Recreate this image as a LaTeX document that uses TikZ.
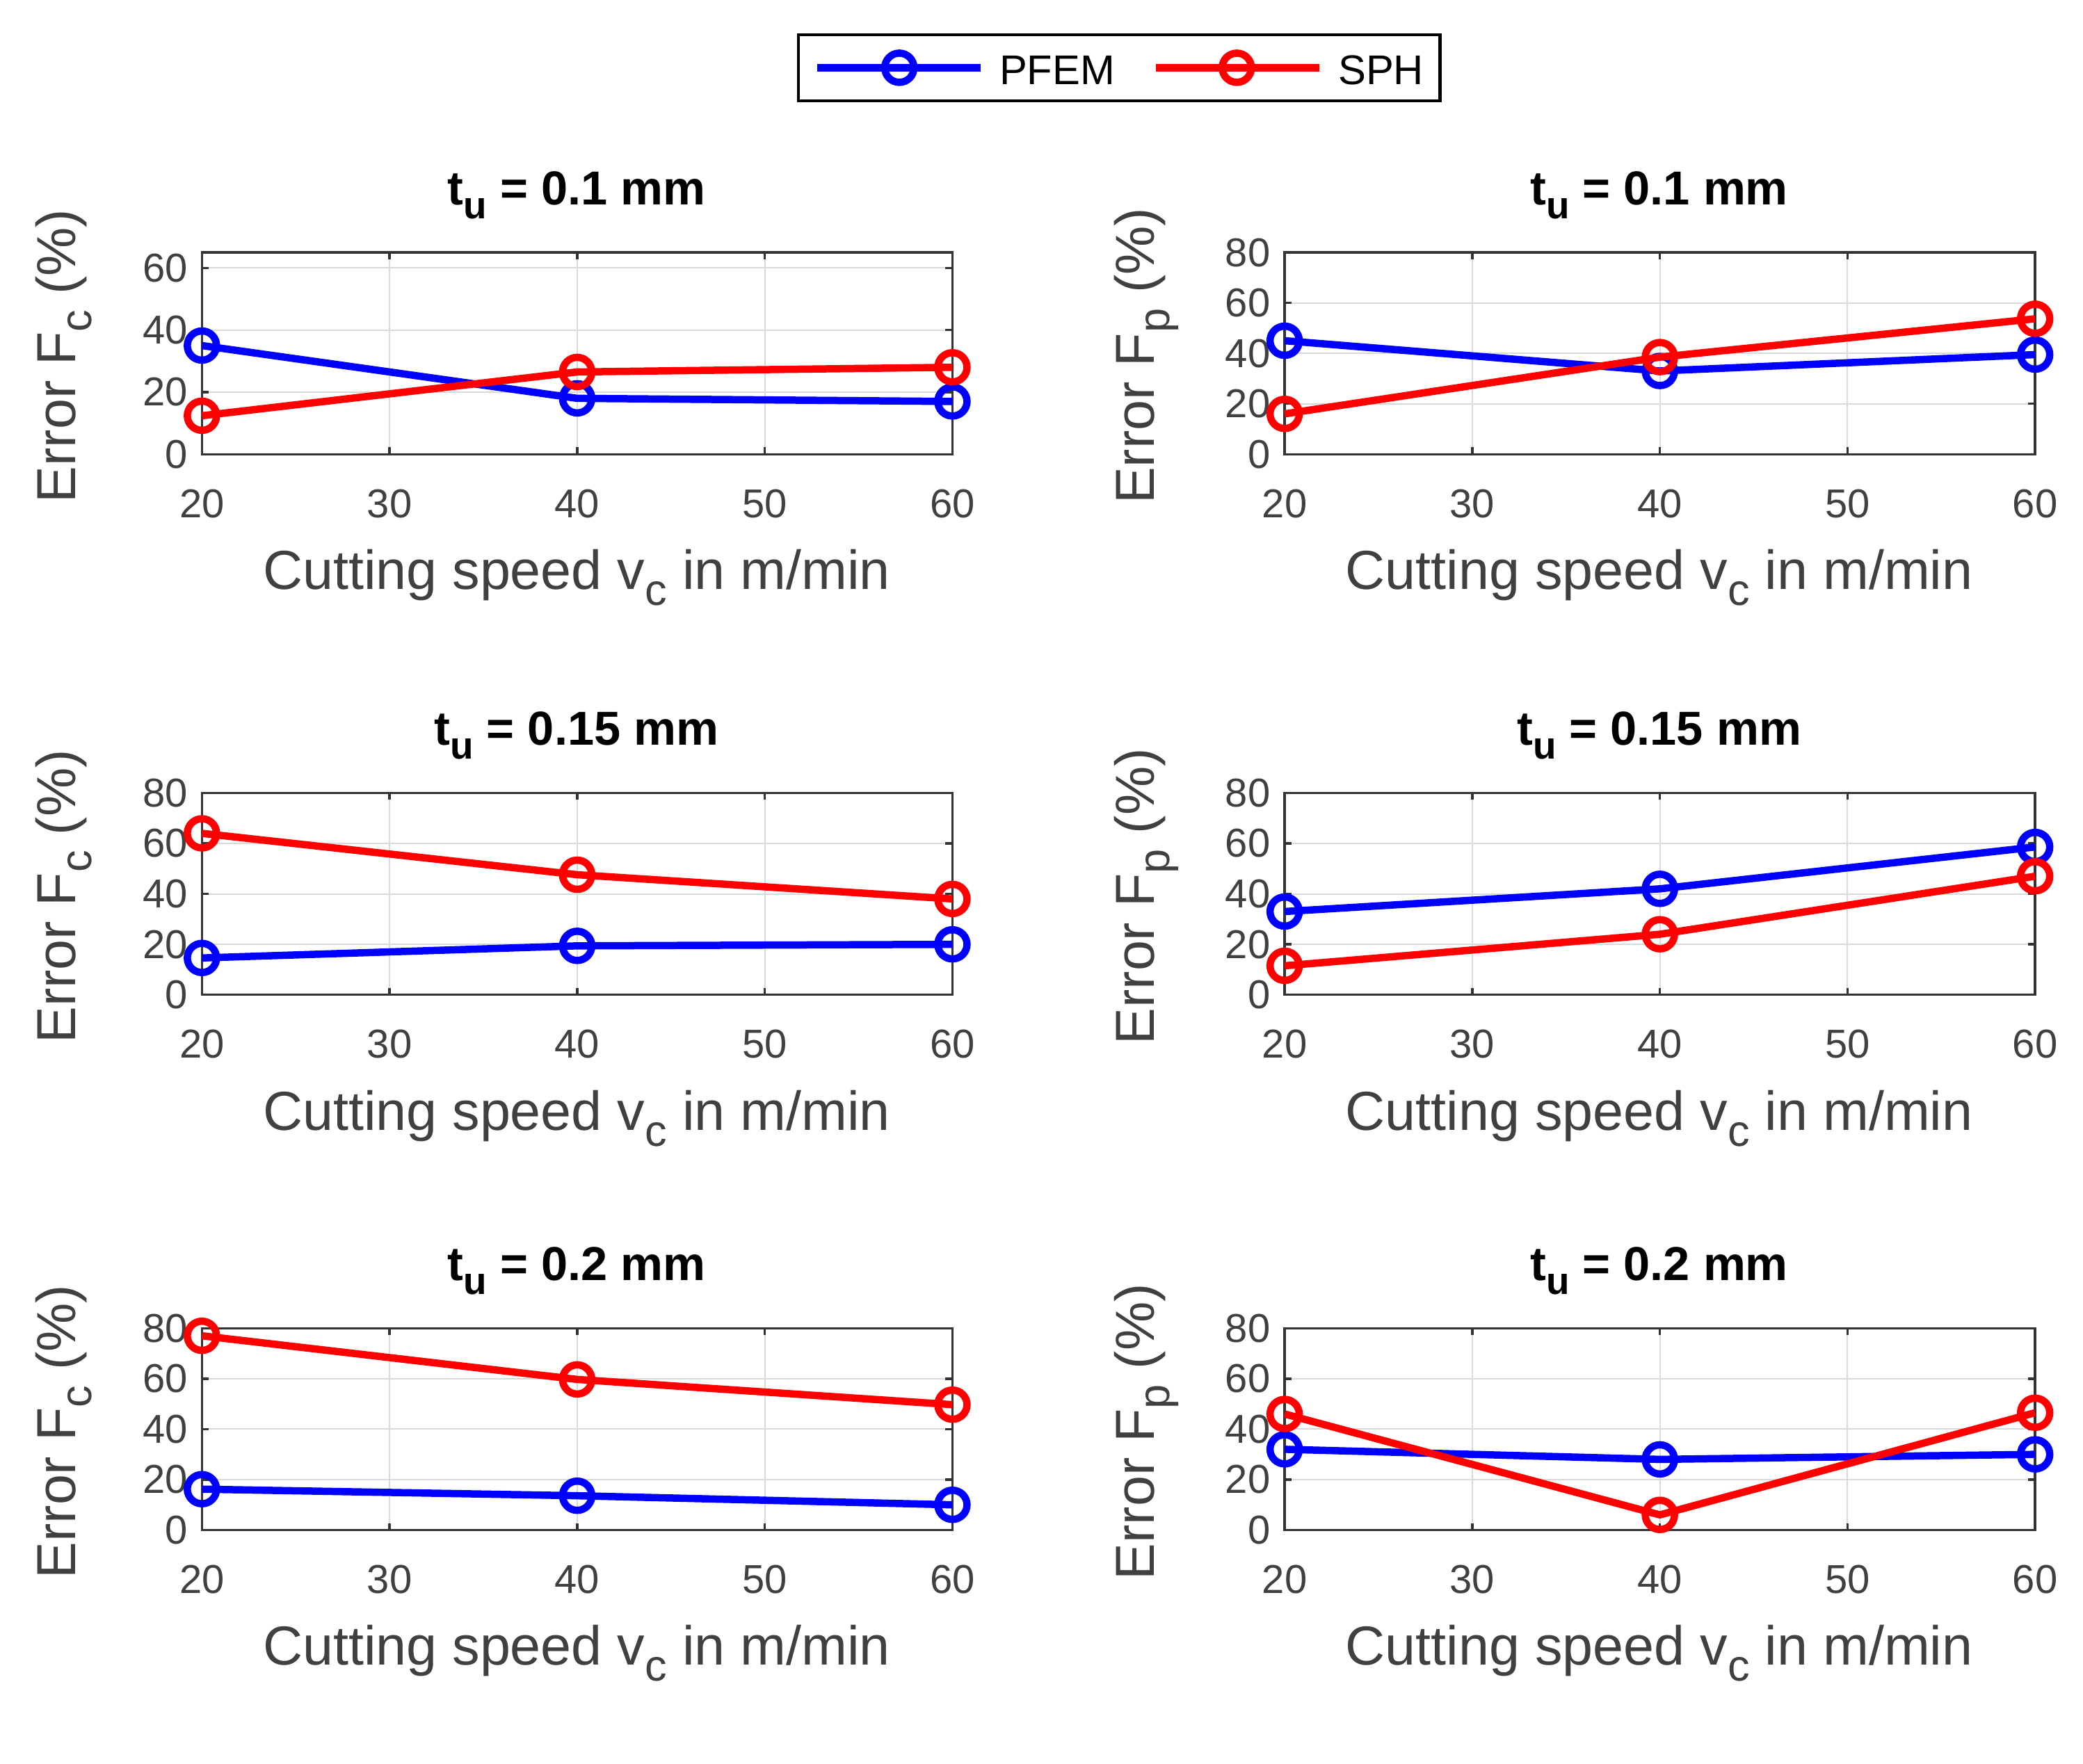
\documentclass[tikz,border=0pt]{standalone}
\usepackage{fontspec}
\setmainfont{Liberation Sans}
\begin{document}
\definecolor{pb}{RGB}{0,0,255}
\definecolor{pr}{RGB}{255,0,0}
\tikzset{
 gridc/.style={line width=0.6pt,black!15},
 axc/.style={line width=1pt,black!80},
 pf/.style={pb,line width=0.105cm,line join=round},
 sp/.style={pr,line width=0.105cm,line join=round},
 tick/.style={font=\fontsize{16.5}{18}\selectfont,text=black!75,inner sep=0pt},
 lab/.style={font=\fontsize{22.5}{24}\selectfont,text=black!75,inner sep=0pt},
 ttl/.style={font=\bfseries\fontsize{19.5}{22}\selectfont,inner sep=0pt},
}
\newcommand\lowsub[1]{\raisebox{-0.55ex}{\fontsize{0.8em}{1em}\selectfont #1}}
% #1 x0 px, #2 ytop px, #3 ymax, #4 ytick list, #5 pfem a/b list, #6 sph a/b list, #7 id
\newcommand\panel[7]{%
\pgfmathsetmacro\yu{2.9032/#3}%
\pgfmathsetmacro\shx{#1*0.0191}%
\pgfmathsetmacro\shy{-(#2+152)*0.0191}%
\pgfmathsetmacro\ytop{#3*\yu}%
\begin{scope}[shift={(\shx cm,\shy cm)}, x=1cm, y=1cm]
 \foreach \g in {30,40,50} {\pgfmathsetmacro\gx{(\g-20)*0.2698}\draw[gridc] (\gx,0)--(\gx,\ytop);
   \draw[axc] (\gx,0)--(\gx,0.1); \draw[axc] (\gx,\ytop)--(\gx,\ytop-0.1);}
 \foreach \g in {20,40,60} {\pgfmathsetmacro\gy{\g*\yu}\draw[gridc] (0,\gy)--(10.792,\gy);
   \draw[axc] (0,\gy)--(0.1,\gy); \draw[axc] (10.792,\gy)--(10.692,\gy);}
 \draw[axc] (0,0) rectangle (10.792,\ytop);
 \foreach \g in {20,30,40,50,60} {\pgfmathsetmacro\gx{(\g-20)*0.2698}\node[tick,anchor=north] (xt#7\g) at (\gx,-0.5) {\g};}
 \foreach \g in {#4} {\pgfmathsetmacro\gy{\g*\yu}\node[tick,anchor=east] (yt#7\g) at (-0.2,\gy) {\g};}
 \foreach \a/\b in {#5} {\pgfmathsetmacro\px{(\a-20)*0.2698}\pgfmathsetmacro\py{\b*\yu}\coordinate (pf#7\a) at (\px,\py);}
 \foreach \a/\b in {#6} {\pgfmathsetmacro\px{(\a-20)*0.2698}\pgfmathsetmacro\py{\b*\yu}\coordinate (sp#7\a) at (\px,\py);}
 \draw[pf] (pf#720)--(pf#740)--(pf#760);
 \foreach \a in {20,40,60} \draw[pf] (pf#7\a) circle[radius=0.21cm];
 \draw[sp] (sp#720)--(sp#740)--(sp#760);
 \foreach \a in {20,40,60} \draw[sp] (sp#7\a) circle[radius=0.21cm];
\end{scope}}
\newcommand\labels[5]{% #1 xcenter, #2 ytop, #3 ylabel x, #4 sub, #5 title
 \node[ttl] (t#1#2) at ({#1},{#2-43}) {t\lowsub{u} = #5 mm};
 \node[lab] (x#1#2) at ({#1},{#2+245}) {Cutting speed v\lowsub{c} in m/min};
 \node[lab,rotate=90] (y#1#2) at ({#3},{#2+78}) {Error F\lowsub{#4} (\%)};
}
\begin{tikzpicture}[x=0.0191cm,y=-0.0191cm]
\useasboundingbox (0,0) rectangle (1568,1328);
% legend
\draw[line width=1.2pt] (601,26) rectangle (1084,76);
\coordinate (la) at (615,51); \coordinate (lb) at (738,51);
\coordinate (lc) at (870,51); \coordinate (ld) at (993,51);
\coordinate (lm1) at (677,51); \coordinate (lm2) at (931,51);
\draw[pf] (la)--(lb); \draw[pf] (lm1) circle[radius=0.21cm];
\draw[sp] (lc)--(ld); \draw[sp] (lm2) circle[radius=0.21cm];
\node[font=\fontsize{17}{19}\selectfont,anchor=west,inner sep=0pt] (lp) at (752,53) {PFEM};
\node[font=\fontsize{17}{19}\selectfont,anchor=west,inner sep=0pt] (ls) at (1007,53) {SPH};
% panels
\panel{152}{190}{65}{0,20,40,60}{20/35,40/18,60/17}{20/12.4,40/26.5,60/28}{a}
\panel{967}{190}{80}{0,20,40,60,80}{20/45,40/33,60/39.5}{20/16,40/38.5,60/53.7}{b}
\panel{152}{597}{80}{0,20,40,60,80}{20/14.6,40/19.4,60/20}{20/64,40/47.6,60/38}{c}
\panel{967}{597}{80}{0,20,40,60,80}{20/33,40/42,60/58.6}{20/11.5,40/24,60/47}{d}
\panel{152}{1000}{80}{0,20,40,60,80}{20/16.2,40/13.6,60/10}{20/77,40/59.7,60/49.7}{e}
\panel{967}{1000}{80}{0,20,40,60,80}{20/32,40/28,60/30}{20/46,40/6,60/46.5}{f}
\labels{434}{190}{48}{c}{0.1}
\labels{1249}{190}{863}{p}{0.1}
\labels{434}{597}{48}{c}{0.15}
\labels{1249}{597}{863}{p}{0.15}
\labels{434}{1000}{48}{c}{0.2}
\labels{1249}{1000}{863}{p}{0.2}
\end{tikzpicture}
\end{document}
